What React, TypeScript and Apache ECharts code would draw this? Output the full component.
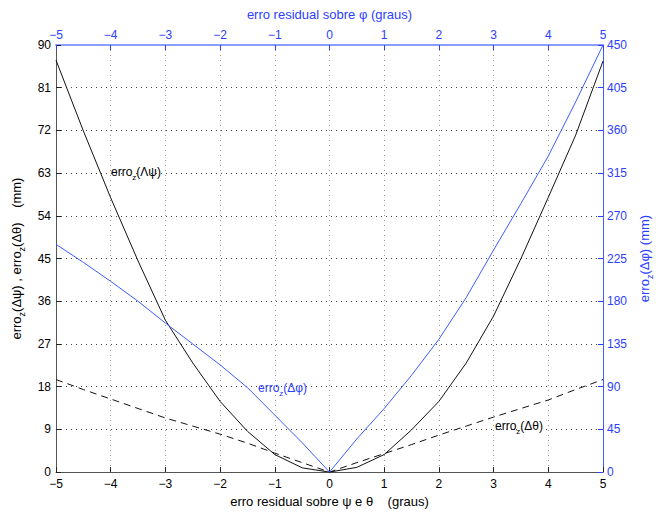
import React, { useEffect, useRef } from 'react';
import * as echarts from 'echarts';

const xValues = [-5, -4.5, -4, -3.5, -3, -2.5, -2, -1.5, -1, -0.5, 0, 0.5, 1, 1.5, 2, 2.5, 3, 3.5, 4, 4.5, 5];
const psiErr = [86.8, 71.9, 57.8, 44.5, 32.0, 23.0, 14.9, 8.6, 3.7, 0.9, 0, 1.0, 3.7, 8.9, 14.9, 23.0, 32.9, 45.0, 57.9, 71.0, 86.6];
const thetaErr = [19.5, 17.4, 15.4, 13.4, 11.4, 9.7, 8.0, 6.1, 4.0, 2.0, 0, 2.0, 3.9, 5.8, 7.8, 9.7, 11.6, 13.4, 15.2, 17.4, 19.5];
const phiErr = [240, 221, 201, 180, 157, 135, 113, 89, 60, 31, 0, 35, 67, 102, 140, 184, 234, 283, 333, 390, 450];

const leftRange = { min: 0, max: 90, interval: 9 };
const rightRange = { min: 0, max: 450, interval: 45 };
const xRange = { min: -5, max: 5, interval: 1 };

const FONT = 'Liberation Sans, Arial, Helvetica, sans-serif';
const BLUE_LINE = '#3c5cff';
const BLUE_TEXT = '#2c40ff';

export default function App() {
  const ref = useRef<HTMLDivElement>(null);
  useEffect(() => {
    const chart = echarts.init(ref.current!, null, { renderer: 'svg' });
    const minus = (v: number) => String(v).replace('-', '\u2212');
    const richBlack = {
      n: { fontSize: 13, color: '#000', fontFamily: FONT },
      s: { fontSize: 9, color: '#000', fontFamily: FONT, padding: [11, 0, 0, 0] },
    };
    const richBlue = {
      n: { fontSize: 13, color: BLUE_TEXT, fontFamily: FONT },
      s: { fontSize: 9, color: BLUE_TEXT, fontFamily: FONT, padding: [11, 0, 0, 0] },
    };
    const richAnnBlack = {
      n: { fontSize: 12, fill: '#000', fontFamily: FONT },
      s: { fontSize: 8, fill: '#000', fontFamily: FONT, padding: [11, 0, 0, 0] },
    };
    const richAnnBlue = {
      n: { fontSize: 12, fill: BLUE_TEXT, fontFamily: FONT },
      s: { fontSize: 8, fill: BLUE_TEXT, fontFamily: FONT, padding: [11, 0, 0, 0] },
    };
    const psiData = xValues.map((x, i) => [x, psiErr[i]]);
    const thetaData = xValues.map((x, i) => [x, thetaErr[i]]);
    const phiData = xValues.map((x, i) => [x, phiErr[i]]);

    const option: any = {
      animation: false,
      backgroundColor: '#fff',
      textStyle: { fontFamily: FONT },
      grid: { left: 56, right: 68, top: 45, bottom: 37, containLabel: false },
      xAxis: [
        {
          type: 'value', position: 'bottom', ...xRange,
          name: 'erro residual sobre ψ e θ    (graus)', nameLocation: 'middle', nameGap: 22,
          nameTextStyle: { color: '#000', fontSize: 13, fontFamily: FONT },
          axisLine: { show: true, onZero: false, lineStyle: { color: '#555', width: 1 } },
          axisTick: { show: true, inside: true, length: 5, lineStyle: { color: '#222' } },
          axisLabel: { color: '#000', fontSize: 12, margin: 6, formatter: minus, fontFamily: FONT },
          splitLine: { show: true, lineStyle: { type: [1, 4], color: '#999' } },
        },
        {
          type: 'value', position: 'top', ...xRange,
          name: 'erro residual sobre φ (graus)', nameLocation: 'middle', nameGap: 24,
          nameTextStyle: { color: BLUE_TEXT, fontSize: 13, fontFamily: FONT },
          axisLine: { show: true, onZero: false, lineStyle: { color: '#8e9cff', width: 2 } },
          axisTick: { show: true, inside: true, length: 5, lineStyle: { color: BLUE_TEXT } },
          axisLabel: { color: BLUE_TEXT, fontSize: 12, margin: 4, formatter: minus, fontFamily: FONT },
          splitLine: { show: false },
        },
      ],
      yAxis: [
        {
          type: 'value', position: 'left', ...leftRange,
          name: '{n|erro}{s|z}{n|(Δψ) , erro}{s|z}{n|(Δθ)    (mm)}', nameLocation: 'middle', nameGap: 26,
          nameRotate: 90,
          nameTextStyle: { rich: richBlack, fontSize: 13, color: '#000' },
          axisLine: { show: true, onZero: false, lineStyle: { color: '#555', width: 1 } },
          axisTick: { show: true, inside: true, length: 5, lineStyle: { color: '#222' } },
          axisLabel: { color: '#000', fontSize: 12, margin: 5, fontFamily: FONT },
          splitLine: { show: true, lineStyle: { type: [1, 4], color: '#444' } },
        },
        {
          type: 'value', position: 'right', ...rightRange,
          name: '{n|erro}{s|z}{n|(Δφ) (mm)}', nameLocation: 'middle', nameGap: 30,
          nameRotate: 90,
          nameTextStyle: { rich: richBlue, fontSize: 13, color: BLUE_TEXT },
          axisLine: { show: true, onZero: false, lineStyle: { color: BLUE_LINE, width: 1 } },
          axisTick: { show: true, inside: true, length: 5, lineStyle: { color: BLUE_TEXT } },
          axisLabel: { color: BLUE_TEXT, fontSize: 12, margin: 4, fontFamily: FONT },
          splitLine: { show: false },
        },
      ],
      series: [
        {
          name: 'psi', type: 'line', xAxisIndex: 0, yAxisIndex: 0, data: psiData,
          showSymbol: false, symbol: 'none', lineStyle: { color: '#111', width: 1 },
        },
        {
          name: 'theta', type: 'line', xAxisIndex: 0, yAxisIndex: 0, data: thetaData,
          showSymbol: false, symbol: 'none', lineStyle: { color: '#111', width: 1, type: [7, 5] },
        },
        {
          name: 'phi', type: 'line', xAxisIndex: 1, yAxisIndex: 1, data: phiData,
          showSymbol: false, symbol: 'none', lineStyle: { color: BLUE_LINE, width: 1 },
        },
      ],
      graphic: [
        { type: 'text', x: 111, y: 172, style: { text: '{n|erro}{s|z}{n|(Λψ)}', rich: richAnnBlack, verticalAlign: 'middle' } },
        { type: 'text', x: 258, y: 388, style: { text: '{n|erro}{s|z}{n|(Δφ)}', rich: richAnnBlue, verticalAlign: 'middle' } },
        { type: 'text', x: 495, y: 426, style: { text: '{n|erro}{s|z}{n|(Δθ)}', rich: richAnnBlack, verticalAlign: 'middle' } },
      ],
    };
    chart.setOption(option);
    return () => chart.dispose();
  }, []);
  return (
    <div
      ref={ref}
      style={{ position: 'fixed', left: 0, top: 0, width: 671, height: 513, background: '#fff' }}
    />
  );
}
